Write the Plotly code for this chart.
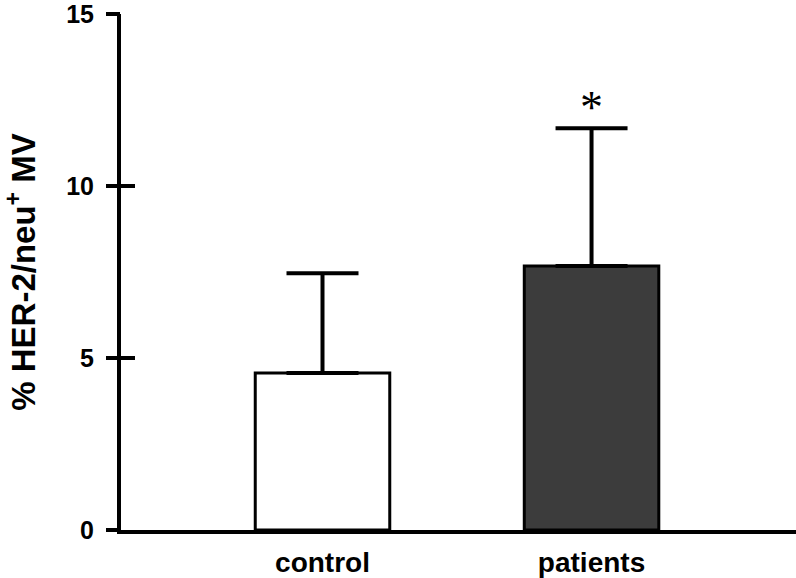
import plotly.graph_objects as go

categories = ["control", "patients"]
means = [4.57, 7.68]
sem_upper = [2.9, 4.01]
bar_colors = ["#ffffff", "#3c3c3c"]
y_ticks = [0, 5, 10, 15]
significance = ["", "*"]

fig = go.Figure()
fig.add_trace(go.Bar(
    x=categories, y=means, width=0.5,
    marker=dict(color=bar_colors, line=dict(color="black", width=3)),
    error_y=dict(type="data", symmetric=False, array=sem_upper,
                 arrayminus=[0] * len(means), color="black",
                 thickness=4, width=36),
    showlegend=False, hoverinfo="skip",
))
fig.add_trace(go.Scatter(x=[], y=[], yaxis="y2", showlegend=False))

for c, m, e, s in zip(categories, means, sem_upper, significance):
    if s:
        fig.add_annotation(x=c, y=m + e, text=s, showarrow=False,
                           yanchor="bottom", yshift=-7,
                           font=dict(family="Liberation Serif", size=46, color="black"))

axis_font = dict(family="Liberation Sans", size=25, color="black")
fig.update_layout(
    width=796, height=578,
    margin=dict(l=121, r=0, t=14, b=48),
    paper_bgcolor="white", plot_bgcolor="white",
    font=dict(family="Liberation Sans", color="black"),
    xaxis=dict(range=[-0.749, 1.76], showline=True, linecolor="black",
               linewidth=4, ticks="", showgrid=False, zeroline=False,
               tickfont=dict(family="Liberation Sans", size=28, color="black"),
               ticklabelstandoff=4),
    yaxis=dict(range=[0, 15.01], tickvals=y_ticks, showticklabels=False,
               showline=True, linecolor="black", linewidth=4,
               ticks="inside", ticklen=14, tickwidth=4, tickcolor="black",
               showgrid=False, zeroline=False),
    yaxis2=dict(range=[0, 15.01], tickvals=y_ticks,
                ticktext=[f"<b>{v}</b>" for v in y_ticks],
                overlaying="y", anchor="x", side="left",
                showline=False, ticklabeloverflow="allow",
                ticks="outside", ticklen=14, tickwidth=4, tickcolor="black",
                showgrid=False, zeroline=False, tickfont=axis_font,
                ticklabelstandoff=7,
                title=dict(text="<b>% HER-2/neu<sup>+</sup> MV</b>",
                           font=dict(family="Liberation Sans", size=33, color="black"),
                           standoff=24)),
)
fig.update_xaxes(ticktext=[f"<b>{c}</b>" for c in categories], tickvals=categories)

fig.write_html("out.html", config={"displayModeBar": False},
               post_script="document.body.style.margin='0';")
